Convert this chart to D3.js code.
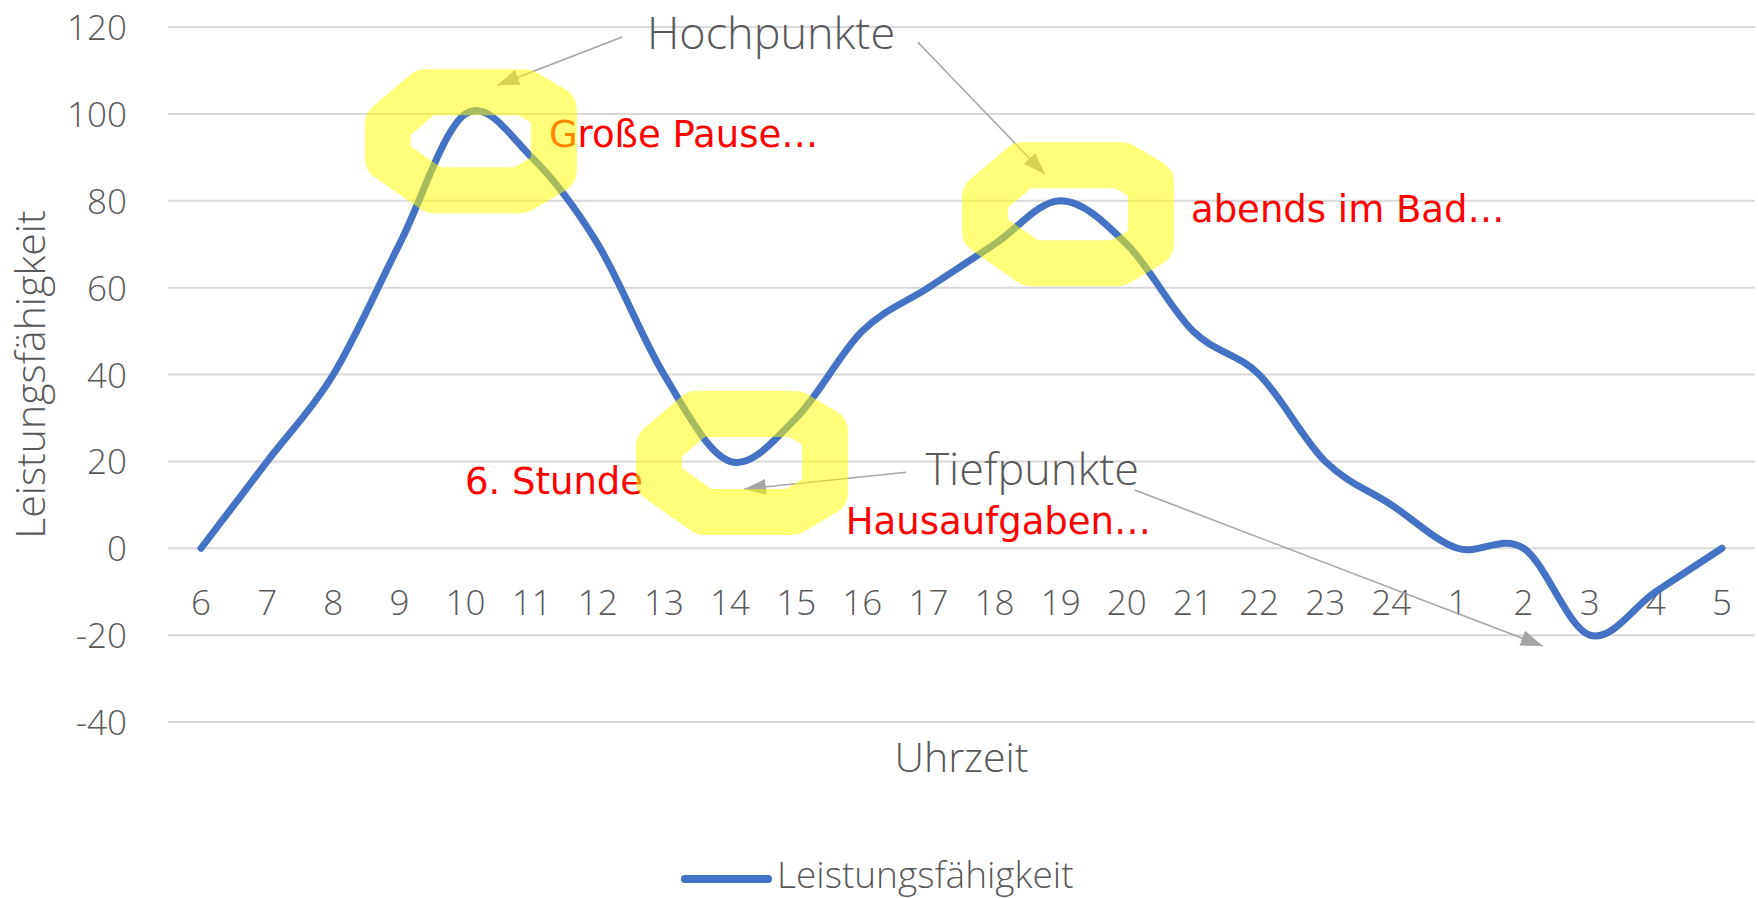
<!DOCTYPE html>
<html>
<head>
<meta charset="utf-8">
<script src="https://cdn.jsdelivr.net/npm/d3@7"></script>
<style>
  html, body { margin: 0; padding: 0; background: #ffffff; }
  svg { display: block; }
  .gray { font-family: "Open Sans", sans-serif; font-weight: 300; fill: #595959; }
  .red { font-family: "DejaVu Sans", Verdana, sans-serif; fill: #ff0000; }
</style>
</head>
<body>
<div id="chart"></div>
<script>
const categories = ["6", "7", "8", "9", "10", "11", "12", "13", "14", "15", "16", "17",
  "18", "19", "20", "21", "22", "23", "24", "1", "2", "3", "4", "5"];
const values = [0, 20, 40, 70, 100, 90, 70, 40, 20, 30, 50, 60,
  70, 80, 70, 50, 40, 20, 10, 0, 0, -20, -10, 0];
const yTicks = [-40, -20, 0, 20, 40, 60, 80, 100, 120];
const seriesName = "Leistungsfähigkeit";
const xTitle = "Uhrzeit";
const yTitle = "Leistungsfähigkeit";

// annotations, positioned in data space (category index, value)
const notes = [
  { text: "Hochpunkte", i: 8.62, v: 114.9 },
  { text: "Tiefpunkte", i: 12.57, v: 14.6 }
];
const arrows = [
  { from: [6.37, 117.7], to: [4.48, 106.6] },
  { from: [10.84, 116.5], to: [12.76, 86.1] },
  { from: [10.66, 17.5], to: [8.21, 13.6] },
  { from: [14.12, 13.4], to: [20.29, -22.5] }
];
const comments = [
  { text: "Große Pause…", i: 5.26, v: 92.4 },
  { text: "abends im Bad…", i: 14.97, v: 75.1 },
  { text: "6. Stunde", i: 3.99, v: 12.5 },
  { text: "Hausaufgaben…", i: 9.75, v: 3.3 }
];
const highlights = [
  { i: 4.08, v: 93.7 },
  { i: 13.11, v: 76.9 },
  { i: 8.18, v: 19.6 }
];

const W = 1758, H = 898;
const plot = { left: 168, right: 1755, top: 27, bottom: 722 };

const svg = d3.select("#chart").append("svg")
  .attr("width", W).attr("height", H);

const x = d3.scaleBand().domain(categories).range([plot.left, plot.right]);
const xi = d3.scaleLinear()
  .domain([0, categories.length - 1])
  .range([x(categories[0]) + x.bandwidth() / 2, x(categories[categories.length - 1]) + x.bandwidth() / 2]);
const y = d3.scaleLinear().domain([-40, 120]).range([plot.bottom, plot.top]);

// gridlines
svg.append("g")
  .selectAll("line")
  .data(yTicks)
  .join("line")
  .attr("x1", plot.left).attr("x2", plot.right)
  .attr("y1", d => y(d)).attr("y2", d => y(d))
  .attr("stroke", "#d9d9d9").attr("stroke-width", 2);

// y tick labels (plain hyphen for negatives, like the original)
const yAxis = svg.append("g")
  .attr("transform", `translate(${plot.left - 41},0)`)
  .call(d3.axisLeft(y).tickValues(yTicks).tickFormat(d => String(d)).tickSize(0).tickPadding(0));
yAxis.select(".domain").remove();
yAxis.selectAll("text")
  .attr("class", "gray")
  .style("font-size", "35px")
  .attr("dy", "0.36em");

// category labels, sitting just under the zero line
const xAxis = svg.append("g")
  .attr("transform", `translate(0,${y(0)})`)
  .call(d3.axisBottom(x).tickSize(0).tickPadding(0));
xAxis.select(".domain").remove();
xAxis.selectAll("text")
  .attr("class", "gray")
  .style("font-size", "35px")
  .attr("dy", null)
  .attr("y", 67);

// axis titles
svg.append("text")
  .attr("class", "gray")
  .attr("x", (plot.left + plot.right) / 2)
  .attr("y", 772)
  .attr("text-anchor", "middle")
  .style("font-size", "41px")
  .text(xTitle);

svg.append("text")
  .attr("class", "gray")
  .attr("transform", `translate(45,${(plot.top + plot.bottom) / 2}) rotate(-90)`)
  .attr("text-anchor", "middle")
  .style("font-size", "41px")
  .text(yTitle);

// the series
const line = d3.line()
  .x((d, i) => x(categories[i]) + x.bandwidth() / 2)
  .y(d => y(d))
  .curve(d3.curveCardinal.tension(0));

svg.append("path")
  .datum(values)
  .attr("fill", "none")
  .attr("stroke", "#4472c4")
  .attr("stroke-width", 7)
  .attr("stroke-linecap", "round")
  .attr("d", line);

// arrow marker
svg.append("defs").append("marker")
  .attr("id", "head")
  .attr("markerUnits", "userSpaceOnUse")
  .attr("viewBox", "0 -8 22 16")
  .attr("refX", 22).attr("refY", 0)
  .attr("markerWidth", 22).attr("markerHeight", 16)
  .attr("orient", "auto")
  .append("path")
  .attr("d", "M0,-8L22,0L0,8Z")
  .attr("fill", "#a5a5a5");

svg.append("g")
  .selectAll("line")
  .data(arrows)
  .join("line")
  .attr("x1", d => xi(d.from[0])).attr("y1", d => y(d.from[1]))
  .attr("x2", d => xi(d.to[0])).attr("y2", d => y(d.to[1]))
  .attr("stroke", "#a5a5a5")
  .attr("stroke-width", 1.6)
  .attr("marker-end", "url(#head)");

svg.append("g")
  .selectAll("text")
  .data(notes)
  .join("text")
  .attr("class", "gray")
  .attr("x", d => xi(d.i)).attr("y", d => y(d.v))
  .attr("text-anchor", "middle")
  .style("font-size", "45px")
  .text(d => d.text);

svg.append("g")
  .selectAll("text")
  .data(comments)
  .join("text")
  .attr("class", "red")
  .attr("x", d => xi(d.i)).attr("y", d => y(d.v))
  .style("font-size", "37px")
  .text(d => d.text);

// highlighter rings drawn on top
const ring = [[-1, -0.35], [-0.55, -1], [0.65, -1], [1, -0.65], [1, 0.6], [0.6, 1], [-0.45, 1], [-1, 0.35]];
const rx = 83, ry = 49;
const ringLine = d3.line().curve(d3.curveLinearClosed);
svg.append("g")
  .selectAll("path")
  .data(highlights)
  .join("path")
  .attr("d", d => ringLine(ring.map(p => [xi(d.i) + p[0] * rx, y(d.v) + p[1] * ry])))
  .attr("fill", "none")
  .attr("stroke", "#ffff00")
  .attr("stroke-opacity", 0.52)
  .attr("stroke-width", 46)
  .attr("stroke-linejoin", "round");

// legend
const legend = svg.append("g").attr("transform", "translate(681,879)");
legend.append("line")
  .attr("x1", 4).attr("x2", 87)
  .attr("stroke", "#4472c4").attr("stroke-width", 8)
  .attr("stroke-linecap", "round");
legend.append("text")
  .attr("class", "gray")
  .attr("x", 96).attr("y", 9)
  .style("font-size", "37px")
  .text(seriesName);
</script>
</body>
</html>
